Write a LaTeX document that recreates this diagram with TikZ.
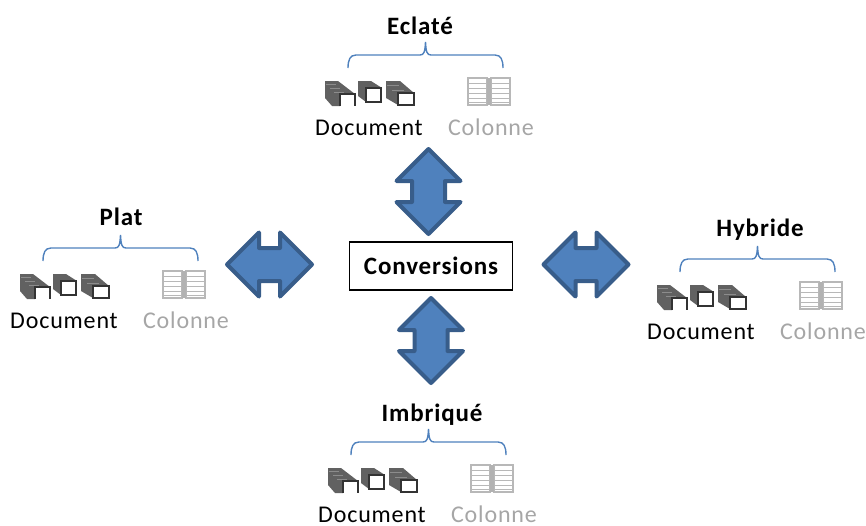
\documentclass[tikz,border=0pt]{standalone}
\usepackage{fontspec}
\setmainfont[LetterSpace=3.5]{Carlito}
\usetikzlibrary{shapes.arrows}
\definecolor{bleu}{HTML}{4F81BD}
\definecolor{bleufonce}{HTML}{385D8A}
\definecolor{grisclair}{HTML}{A6A6A6}
\tikzset{
  lien/.style={double arrow,double arrow head extend=15.5pt,double arrow tip angle=90,
    inner xsep=0pt,inner ysep=14.5pt,minimum width=60pt,minimum height=85pt,fill=bleu,draw=bleufonce,
    line width=4pt,line join=round},
  etiquette/.style={font=\fontsize{24}{26}\selectfont,anchor=base,inner sep=0pt},
  titre/.style={font=\fontsize{25}{27}\selectfont\bfseries,anchor=base,inner sep=0pt},
  accolade/.style={draw=bleu,line width=1.4pt},
  dos/.style={fill=black!62},
  feuille/.style={draw=black!45,line width=1pt},
  recto/.style={draw=black!80,fill=white,line width=2.2pt},
  cellule/.style={draw=black!28,fill=white,line width=1.5pt}
}
% one model: name, x shift, y shift, title x, title y
\newcommand{\modele}[6]{
  \begin{scope}[shift={(#2,#3)}]
    \coordinate (#1g) at (348,68);
    \coordinate (#1d) at (503,68);
    \draw[accolade] (#1g) .. controls (348,60) and (350,55) .. (356,55) -- (420,55)
      .. controls (424,55) and (425,52) .. (425.5,42)
      .. controls (426,52) and (427,55) .. (431,55) -- (495,55)
      .. controls (501,55) and (503,60) .. (#1d);
    % documents
    \fill[dos] (325,81) -- (338,81) -- (355,94) -- (340,106) -- (332,106) -- (325,98) -- cycle;
    \foreach \i in {0,4,8}
      \draw[feuille] (326+\i,84+\i) -- (336+\i,84+\i);
    \draw[recto] (340,106) -- (340,94) -- (355,94) -- (355,106);
    \fill[dos] (358,81) -- (371,81) -- (382,88) -- (366,102) -- (358,96) -- cycle;
    \draw[recto] (366,88) rectangle (381,102);
    \fill[dos] (386,81) -- (400,81) -- (414,93) -- (398,105) -- (386,98) -- cycle;
    \foreach \i in {0,5}
      \draw[feuille] (387+\i,85+\i) -- (399+\i,85+\i);
    \draw[recto] (398,93) rectangle (414,105);
    % colonnes
    \foreach \x in {468,491} {
      \draw[cellule] (\x,78) rectangle (\x+19,105);
      \foreach \y in {83,88,93,98,102}
        \draw[draw=black!28,line width=1pt] (\x,\y) -- (\x+19,\y);
    }
    \fill[black!30] (487,78) rectangle (491,105);
    \node[etiquette] (#1doc) at (369,135) {Document};
    \node[etiquette,text=grisclair] (#1col) at (491,135) {Colonne};
  \end{scope}
  \node[titre] (#1titre) at (#4,#5) {#6};
}
\begin{document}
\begin{tikzpicture}[x=1pt,y=-1pt]
  \useasboundingbox (0,0) rectangle (866,525);
  \node[draw,line width=1.6pt,minimum width=163pt,minimum height=48pt,inner sep=0pt,
    font=\fontsize{25}{27}\selectfont\bfseries] (conv) at (431,266) {Conversions};
  \node[lien,rotate=90] (haut) at (428.5,191.5) {};
  \node[lien,rotate=90] (bas) at (431,340.5) {};
  \node[lien] (gauche) at (269.5,264.5) {};
  \node[lien] (droite) at (586,264.5) {};
  \modele{ec}{0}{0}{420}{34}{Eclaté}
  \modele{pl}{-305}{193}{121}{225}{Plat}
  \modele{hy}{332}{204}{760}{236}{Hybride}
  \modele{im}{3}{387}{432}{421}{Imbriqué}
\end{tikzpicture}
\end{document}
